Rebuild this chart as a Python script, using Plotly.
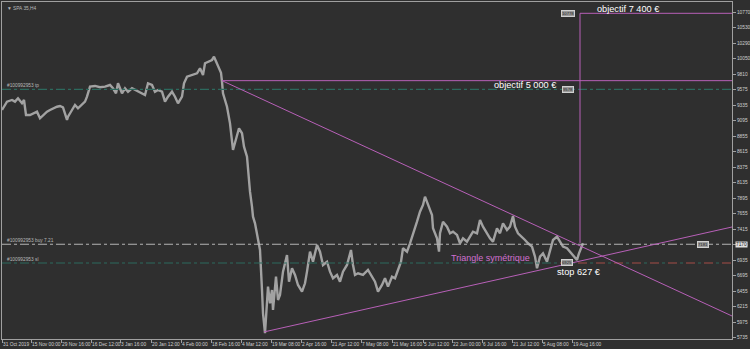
import plotly.graph_objects as go

# ---- data (bar index on the H4 chart, price in points) ----
bar_idx = [0,5,10,13,16,20,22,24,28,31,35,38,41,45,48,51,55,58,61,65,
           66,70,73,76,80,83,85,88,93,98,103,108,111,114,116,120,123,126,130,133,
           136,140,143,146,150,153,156,160,163,166,170,173,176,180,182,185,190,195,198,
           201,203,206,210,212,215,217,219,220,221,225,228,231,234,237,240,242,245,246,248,
           250,251,253,255,258,260,261,263,265,266,268,270,271,274,276,
           278,281,285,287,290,293,296,300,303,305,308,311,315,318,321,325,328,331,335,338,
           341,345,349,351,353,356,361,366,370,373,376,380,383,386,390,393,396,399,401,405,
           408,411,415,418,421,423,426,430,431,435,437,
           438,441,445,448,451,455,458,461,465,468,471,475,478,481,485,488,491,495,498,501,
           505,508,511,513,516,520,523,526,530,533,535,538,541,545,548,551,555,558,561,565,
           568,571,575,577,580,581]
price = [9258,9387,9413,9387,9439,9362,9413,9181,9181,9207,9232,9130,9181,9232,9258,9285,9309,9320,9300,9104,
         9155,9258,9336,9285,9336,9387,9464,9619,9630,9610,9619,9645,9594,9517,9671,9517,9594,9541,9594,9568,
         9541,9517,9490,9671,9645,9541,9568,9541,9387,9464,9541,9464,9362,9464,9671,9773,9800,9826,9903,
         9800,9981,10005,10032,10083,9981,9903,9835,9696,9517,9309,9052,8640,8794,8975,8898,8691,8536,8330,7994,
         7762,7608,7505,7325,7092,6474,6113,5804,6319,6525,6268,6474,6164,6679,6319,
         6396,6757,7015,6602,6809,6706,6551,6447,6577,6757,7066,6911,7170,7066,6860,6911,6757,6655,6706,6602,
         6757,6860,7092,6860,6706,6732,6706,6783,6679,6602,6447,6551,6655,6525,6679,6655,6783,6911,7119,7066,
         7196,7325,7530,7685,7789,7917,7789,7634,7428,7273,7066,
         7351,7530,7453,7351,7376,7325,7196,7273,7221,7298,7376,7351,7557,7453,7351,7273,7221,7428,7351,7505,
         7402,7453,7618,7453,7351,7298,7247,7196,7144,6989,6809,6989,7041,6911,7092,7247,7298,7221,7144,7119,
         7066,7015,6938,7041,7144,7196]

x_tick_pos = [0,29,59,89,118,149,179,209,239,269,299,329,359,390,421,450,480,510,540,570]
x_tick_text = ["31 Oct 2019","15 Nov 00:00","29 Nov 16:00","16 Dec 12:00","3 Jan 16:00",
               "20 Jan 12:00","4 Feb 00:00","18 Feb 16:00","4 Mar 12:00","19 Mar 08:00",
               "2 Apr 16:00","21 Apr 12:00","7 May 08:00","21 May 16:00","5 Jun 12:00",
               "22 Jun 00:00","6 Jul 16:00","21 Jul 12:00","5 Aug 08:00","19 Aug 16:00"]
y_ticks = [10770,10530,10290,10050,9810,9575,9335,9095,8855,8615,8375,8135,
           7895,7655,7415,7175,6935,6695,6455,6215,5975,5735]

# order levels
tp_level = 9578
buy_level = 7181
sl_level = 6891
current_price = 7170
# drawn objects
apex_bar, apex_price = 220, 9712          # top of triangle / objectif 5000 line
low_bar, low_price = 262, 5824            # March low (support start)
edge_bar = 730
desc_end_price = 6071
asc_end_price = 7448
target_bar = 578
target_price = 10754                      # objectif 7400 line

X_RANGE = [0, 730]
Y_RANGE = [5715, 10929]

BG = "#2f2f2f"
GRID_TXT = "#cfcfcf"
PINK = "#b860b8"
TEAL = "#2d6a5e"
TICKFONT = dict(size=4.8, color=GRID_TXT, family="Liberation Sans")

fig = go.Figure()

# price
fig.add_trace(go.Scatter(x=bar_idx, y=price, mode="lines",
                         line=dict(color="#a2a2a2", width=2.4), hoverinfo="skip"))

def seg(x0, y0, x1, y1, color, width=1, dash="solid"):
    fig.add_trace(go.Scatter(x=[x0, x1], y=[y0, y1], mode="lines",
                             line=dict(color=color, width=width, dash=dash), hoverinfo="skip"))

# order lines
seg(X_RANGE[0], tp_level, X_RANGE[1], tp_level, TEAL, 1.2, "dashdot")
seg(X_RANGE[0], buy_level, X_RANGE[1], buy_level, "#b4b4b4", 1, "dashdot")
seg(X_RANGE[0], sl_level, X_RANGE[1], sl_level, TEAL, 1.2, "dashdot")
seg(558, sl_level, X_RANGE[1], sl_level, "#a83030", 1, "dash")

# triangle & objectives
seg(apex_bar, apex_price, edge_bar, apex_price, PINK)
seg(apex_bar, apex_price, edge_bar, desc_end_price, PINK)
seg(low_bar, low_price, edge_bar, asc_end_price, PINK)
seg(target_bar, target_price, edge_bar, target_price, PINK)
seg(target_bar, target_price, target_bar, buy_level + 20, PINK)

fig.update_layout(
    width=750, height=349, showlegend=False,
    margin=dict(l=2, r=18, t=2, b=10, autoexpand=False),
    paper_bgcolor=BG, plot_bgcolor=BG,
    font=dict(family="Liberation Sans", color=GRID_TXT, size=6),
)
fig.update_xaxes(range=X_RANGE, tickvals=x_tick_pos, ticktext=x_tick_text, tickangle=0,
                 automargin=False,
                 ticklabelposition="outside right", ticks="outside", ticklen=3,
                 tickcolor="#a0a0a0", tickfont=TICKFONT,
                 showgrid=False, zeroline=False, showline=True, linecolor="#a0a0a0",
                 mirror=True, linewidth=1)
fig.update_yaxes(range=Y_RANGE, tickvals=y_ticks, ticktext=[str(v) for v in y_ticks],
                 automargin=False,
                 side="right", ticks="outside", ticklen=3, tickcolor="#a0a0a0",
                 tickfont=TICKFONT,
                 showgrid=False, zeroline=False, showline=True, linecolor="#a0a0a0",
                 mirror=True, linewidth=1)

small = dict(size=4.8, color="#b8b8b8", family="Liberation Sans")
fig.add_annotation(xref="paper", yref="paper", x=0.004, y=0.994, xanchor="left", yanchor="top",
                   text="▼ SPA 35,H4", showarrow=False, font=small)
fig.add_annotation(x=3, y=tp_level, xanchor="left", yanchor="bottom", text="#100992953 tp",
                   showarrow=False, font=small, yshift=-1)
fig.add_annotation(x=3, y=buy_level, xanchor="left", yanchor="bottom", text="#100992953 buy 7.21",
                   showarrow=False, font=small, yshift=-1)
fig.add_annotation(x=3, y=sl_level, xanchor="left", yanchor="bottom", text="#100992953 sl",
                   showarrow=False, font=small, yshift=-1)

big = dict(size=9.2, color="white", family="Liberation Sans")
fig.add_annotation(x=626, y=10816, text="objectif 7 400 €", showarrow=False, font=big)
fig.add_annotation(x=556, y=9645, xanchor="right", text="objectif 5 000 €", showarrow=False, font=big)
fig.add_annotation(x=576, y=6757, text="stop 627 €", showarrow=False, font=big)
fig.add_annotation(x=488, y=6964, text="Triangle symétrique", showarrow=False,
                   font=dict(size=9, color="#d070d0", family="Liberation Sans"))

# order price boxes
box = dict(size=4.2, color="#202020", family="Liberation Sans")
for bx, by, txt in [(566, target_price, "10778"), (566, tp_level, "9578"), (565, sl_level, "6925"),
                    (701, buy_level, "7181")]:
    fig.add_annotation(x=bx, y=by, text=txt, showarrow=False, font=box,
                       bgcolor="#9a9a9a", bordercolor="#d0d0d0", borderwidth=1, borderpad=0)
fig.add_annotation(xref="paper", x=1.0, y=current_price, xanchor="left", text=str(current_price),
                   showarrow=False, xshift=3, font=dict(size=4.8, color="#202020", family="Liberation Sans"),
                   bgcolor="#e0e0e0", borderpad=0)

fig.write_html("out.html")
